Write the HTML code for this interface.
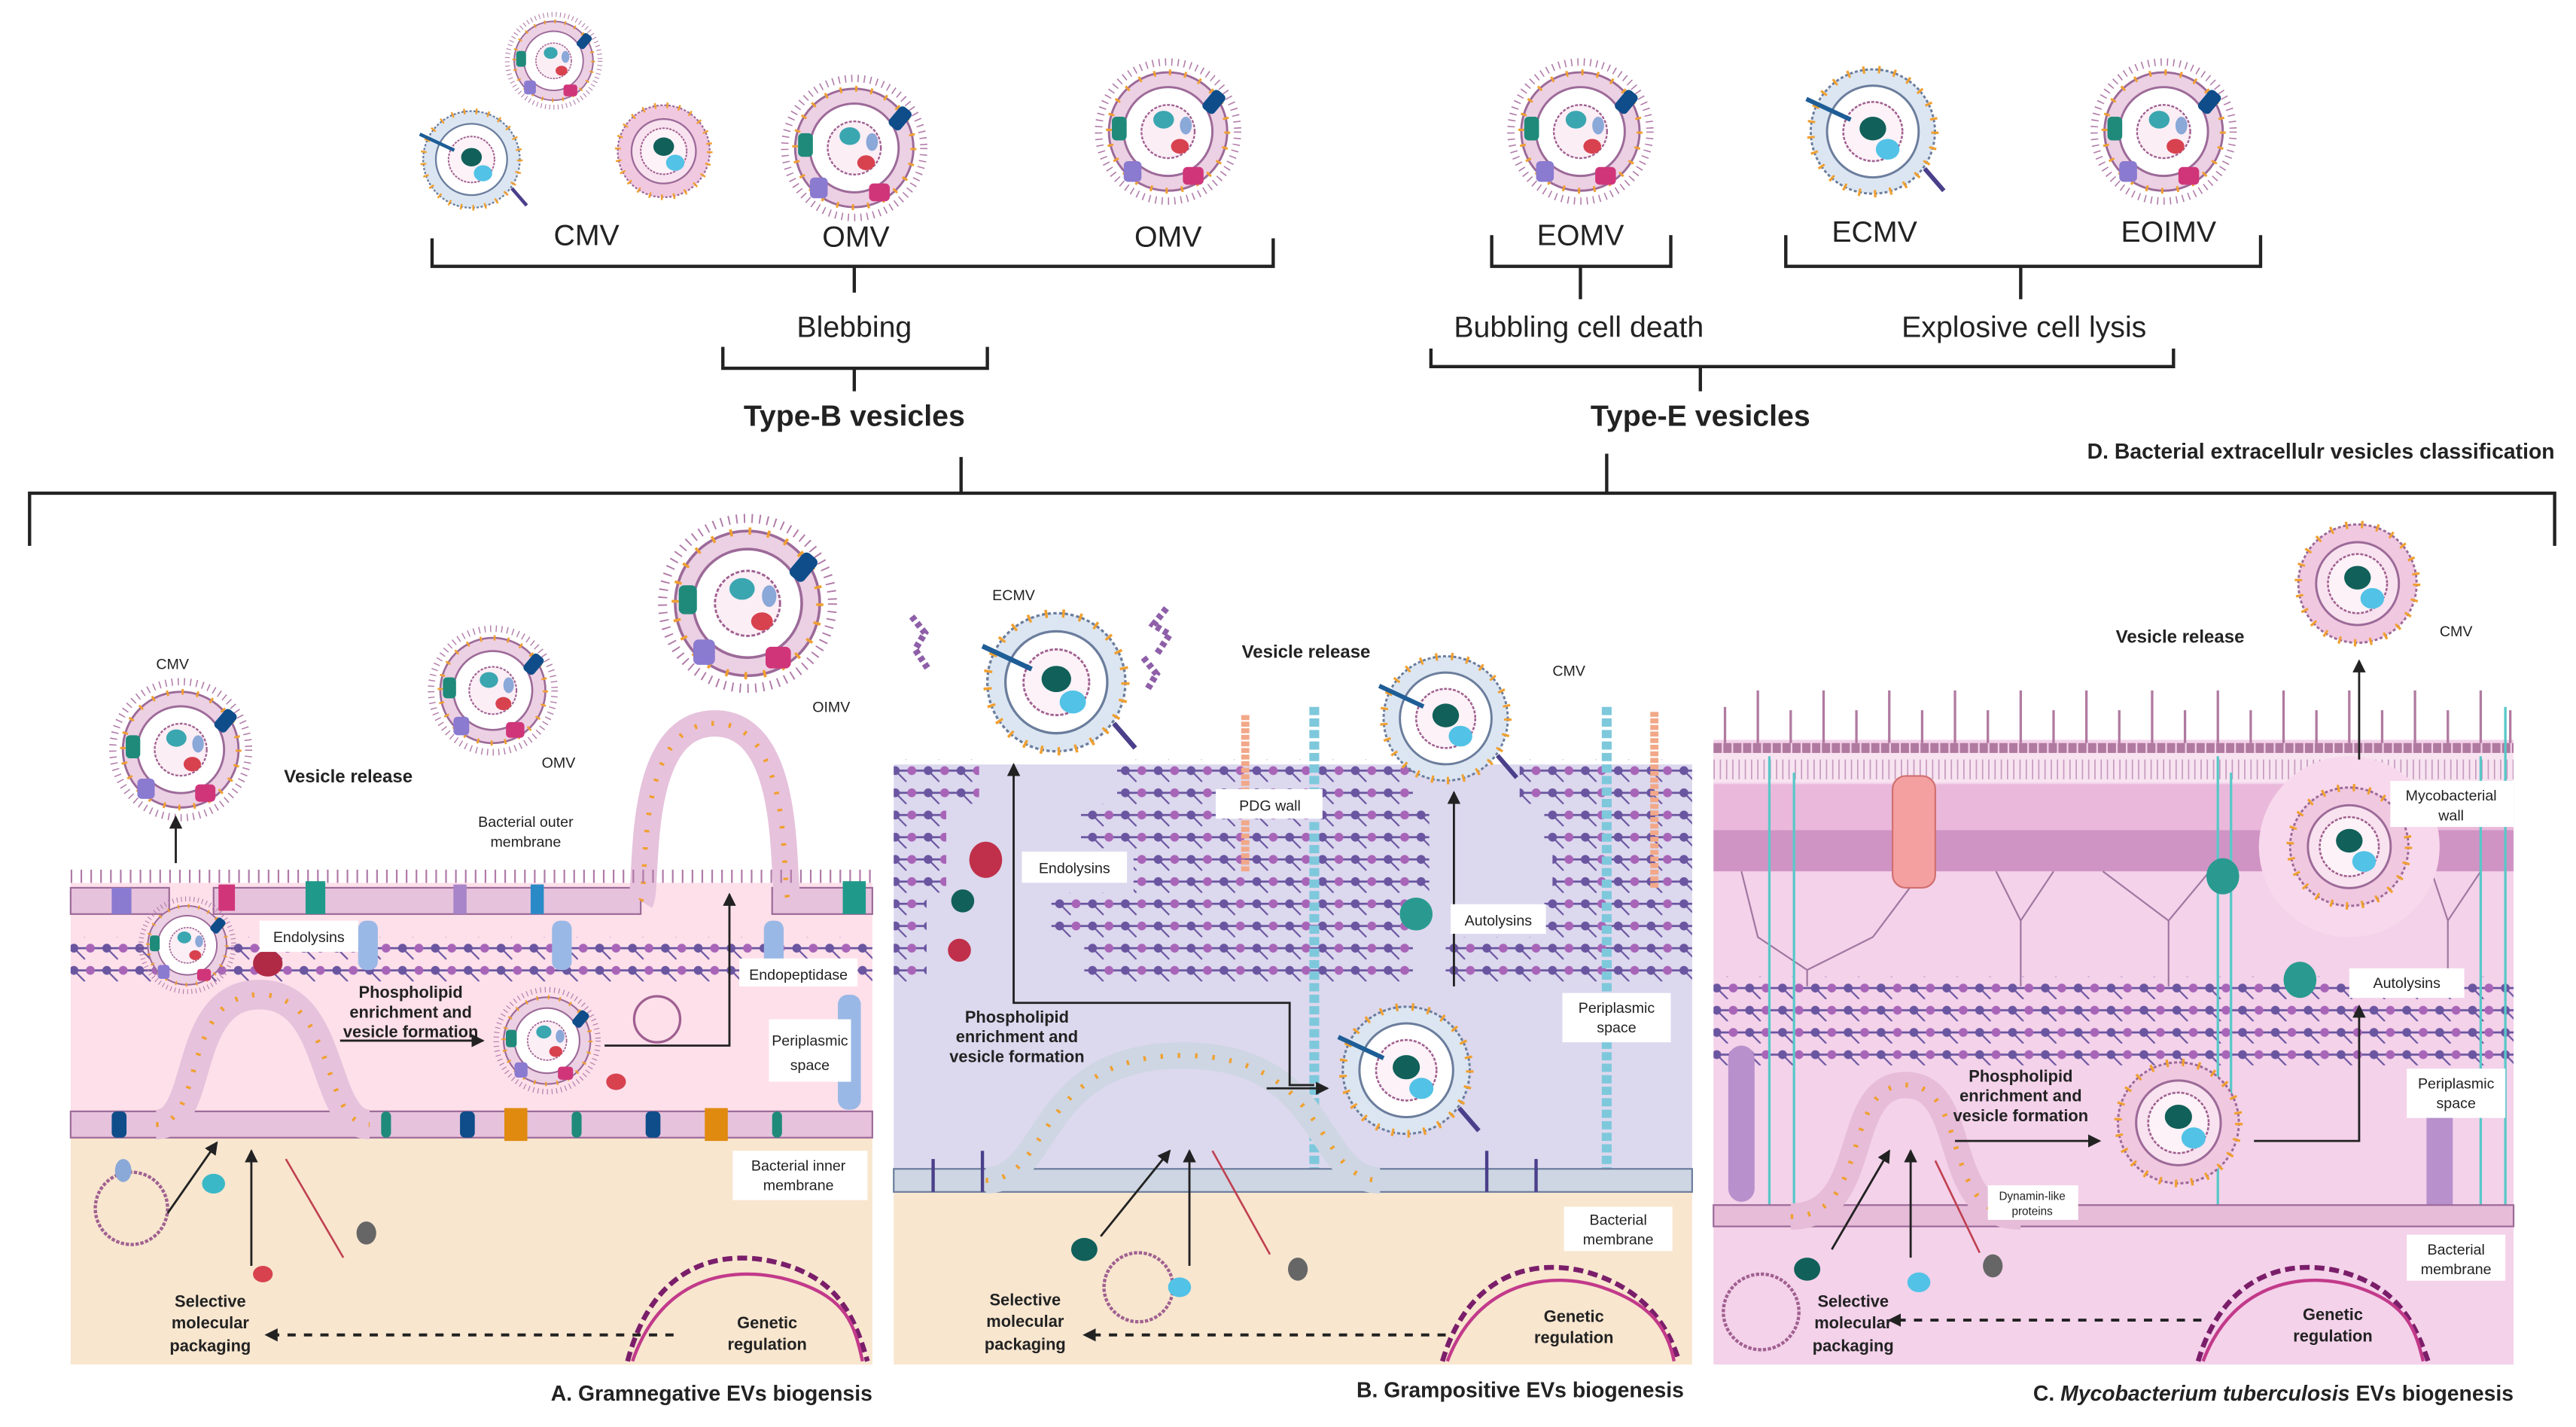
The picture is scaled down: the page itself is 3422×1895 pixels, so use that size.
<!DOCTYPE html>
<html><head><meta charset="utf-8"><style>
html,body{margin:0;padding:0;background:#fff;}
svg{display:block;}
text{font-family:"Liberation Sans",sans-serif;fill:#222;}
.b{font-weight:bold;}
.s{font-size:9px;fill:#555;}
</style></head><body>
<svg width="3422" height="1895" viewBox="0 0 1568 868" preserveAspectRatio="none" xmlns="http://www.w3.org/2000/svg">
<defs>
<symbol id="v" viewBox="-50 -50 100 100">
 <circle r="47" fill="none" stroke="#b07aa8" stroke-width="5" stroke-dasharray="0.8 3.5"/>
 <circle r="40" fill="#ecd0e4" stroke="#9c6a98" stroke-width="1.5"/>
 <circle r="40" fill="none" stroke="#f0a030" stroke-width="4" stroke-dasharray="1.5 9"/>
 <circle r="30" fill="#fff" stroke="#9c6a98" stroke-width="1.5"/>
 <circle r="18" fill="#fbeef5" stroke="#a06090" stroke-width="1.2" stroke-dasharray="2 1"/>
 <rect x="-38" y="-10" width="10" height="16" rx="3" fill="#1f8a7a"/>
 <rect x="26" y="-28" width="10" height="16" rx="3" fill="#0e4d8a" transform="rotate(40 31 -20)"/>
 <rect x="10" y="24" width="14" height="12" rx="3" fill="#d0357a"/>
 <rect x="-30" y="20" width="12" height="14" rx="3" fill="#8a7ad0"/>
 <ellipse cx="-3" cy="-8" rx="7" ry="6" fill="#3aa6b0"/>
 <ellipse cx="8" cy="10" rx="6" ry="5" fill="#d8424f"/>
 <ellipse cx="12" cy="-4" rx="4" ry="6" fill="#8aa8d8"/>
</symbol>
<symbol id="vb" viewBox="-50 -50 100 100">
 <circle r="42" fill="#dce6f2" stroke="#6b7d9c" stroke-width="1.5" stroke-dasharray="2 1.5"/>
 <circle r="42" fill="none" stroke="#f0a030" stroke-width="5" stroke-dasharray="1.6 9"/>
 <circle r="31" fill="#fff" stroke="#6b7d9c" stroke-width="1.5"/>
 <circle r="20" fill="#fdf2f7" stroke="#a06090" stroke-width="1.3" stroke-dasharray="2 1"/>
 <ellipse cx="0" cy="-2" rx="9" ry="8" fill="#11605a"/>
 <ellipse cx="10" cy="12" rx="8" ry="7" fill="#52c2e6"/>
 <line x1="-45" y1="-22" x2="-15" y2="-8" stroke="#1e5d96" stroke-width="3"/>
 <line x1="35" y1="25" x2="48" y2="40" stroke="#4a3f8a" stroke-width="3"/>
</symbol>
<symbol id="vc" viewBox="-50 -50 100 100">
 <circle r="40" fill="#f0c8e0" stroke="#9c6a98" stroke-width="1.5" stroke-dasharray="2 1.5"/>
 <circle r="40" fill="none" stroke="#f0a030" stroke-width="5" stroke-dasharray="1.6 9"/>
 <circle r="28" fill="#f8e2ef" stroke="#9c6a98" stroke-width="1.5"/>
 <circle r="20" fill="#fdf2f7" stroke="#a06090" stroke-width="1.3" stroke-dasharray="2 1"/>
 <ellipse cx="0" cy="-4" rx="9" ry="8" fill="#11605a"/>
 <ellipse cx="10" cy="10" rx="8" ry="7" fill="#52c2e6"/>
</symbol>
<pattern id="pg" width="20" height="13.5" patternUnits="userSpaceOnUse" patternTransform="translate(0,3)">
 <line x1="0" y1="6.75" x2="20" y2="6.75" stroke="#6a55a0" stroke-width="1.3"/>
 <line x1="5" y1="6.75" x2="11.7" y2="13.5" stroke="#6a55a0" stroke-width="1"/>
 <line x1="11.7" y1="0" x2="5" y2="-6.75" stroke="#6a55a0" stroke-width="1"/>
 <circle cx="5" cy="6.75" r="2.7" fill="#6a55a0"/><circle cx="15" cy="6.75" r="2.7" fill="#a865b8"/>
</pattern>
<pattern id="pgc" width="20" height="13.5" patternUnits="userSpaceOnUse" patternTransform="translate(0,0.25)">
 <line x1="0" y1="6.75" x2="20" y2="6.75" stroke="#6a55a0" stroke-width="1.3"/>
 <line x1="5" y1="6.75" x2="11.7" y2="13.5" stroke="#6a55a0" stroke-width="1"/>
 <circle cx="5" cy="6.75" r="2.7" fill="#6a55a0"/><circle cx="15" cy="6.75" r="2.7" fill="#a865b8"/>
</pattern>
<marker id="ar" markerWidth="8" markerHeight="8" refX="7" refY="4" orient="auto" markerUnits="userSpaceOnUse"><path d="M0,0 L8,4 L0,8z" fill="#222"/></marker>
</defs>

<!-- ===== TOP CLASSIFICATION ===== -->
<use href="#v" x="307" y="7" width="60" height="60"/>
<use href="#vb" x="252" y="62" width="70" height="70"/>
<use href="#vc" x="369" y="57" width="70" height="70"/>
<use href="#v" x="475" y="45" width="90" height="90"/>
<use href="#v" x="666" y="35" width="90" height="90"/>
<use href="#v" x="917" y="35" width="90" height="90"/>
<use href="#vb" x="1095" y="35" width="90" height="90"/>
<use href="#v" x="1272" y="35" width="90" height="90"/>
<g font-size="18">
<text x="357" y="149" text-anchor="middle">CMV</text>
<text x="521" y="150" text-anchor="middle">OMV</text>
<text x="711" y="150" text-anchor="middle">OMV</text>
<text x="962" y="149" text-anchor="middle">EOMV</text>
<text x="1141" y="147" text-anchor="middle">ECMV</text>
<text x="1320" y="147" text-anchor="middle">EOIMV</text>
<text x="520" y="205" text-anchor="middle">Blebbing</text>
<text x="961" y="205" text-anchor="middle">Bubbling cell death</text>
<text x="1232" y="205" text-anchor="middle">Explosive cell lysis</text>
<text x="520" y="259" text-anchor="middle" class="b">Type-B vesicles</text>
<text x="1035" y="259" text-anchor="middle" class="b">Type-E vesicles</text>
</g>
<text x="1555" y="279" text-anchor="end" class="b" font-size="13">D. Bacterial extracellulr vesicles classification</text>
<g stroke="#222" stroke-width="2" fill="none">
<path d="M263,145 V162 H775 V145 M520,162 V178"/>
<path d="M440,211 V224 H601 V211 M520,224 V238"/>
<path d="M908,143 V162 H1017 V143 M962,162 V182"/>
<path d="M1087,143 V162 H1376 V143 M1230,162 V182"/>
<path d="M871,212 V223 H1323 V212 M1035,223 V238"/>
<path d="M18,332 V300 H1555 V332 M585,300 V278 M978,300 V276"/>
</g>

<!-- ===== PANEL A ===== -->
<rect x="43" y="537" width="488" height="150" fill="#fde0ea"/>
<rect x="43" y="687" width="488" height="143" fill="#f8e6cf"/>
<g>
<rect x="43" y="540" width="60" height="16" fill="#e6c2dc" stroke="#9c6a98"/>
<rect x="130" y="540" width="260" height="16" fill="#e6c2dc" stroke="#9c6a98"/>
<rect x="470" y="540" width="61" height="16" fill="#e6c2dc" stroke="#9c6a98"/>
<path d="M390,548 C395,540 385,440 435,440 C485,440 475,540 480,548" fill="none" stroke="#e6c2dc" stroke-width="16"/>
<path d="M390,548 C395,540 385,440 435,440 C485,440 475,540 480,548" fill="none" stroke="#f0a030" stroke-width="3" stroke-dasharray="1.5 9"/>
<line x1="43" y1="533" x2="531" y2="533" stroke="#b07aa8" stroke-width="8" stroke-dasharray="1 5"/>
<rect x="186" y="536" width="12" height="20" fill="#1f9a8a"/><rect x="276" y="538" width="8" height="18" fill="#a785c8"/>
<rect x="323" y="538" width="8" height="18" fill="#2a8ac8"/><rect x="513" y="536" width="14" height="20" fill="#1f9a8a"/>
<rect x="68" y="540" width="12" height="16" fill="#8a7ad0"/><rect x="133" y="538" width="10" height="16" fill="#d0357a"/>
</g>
<rect x="43" y="570" width="488" height="27" fill="url(#pg)"/>
<rect x="218" y="560" width="12" height="30" rx="5" fill="#9ab8e6"/><rect x="336" y="560" width="12" height="30" rx="5" fill="#9ab8e6"/><rect x="465" y="560" width="12" height="30" rx="5" fill="#9ab8e6"/>
<rect x="510" y="605" width="14" height="70" rx="6" fill="#9ab8e6"/>
<rect x="43" y="676" width="488" height="16" fill="#e6c2dc" stroke="#9c6a98"/>
<path d="M95,684 C125,684 110,605 158,605 C205,605 195,684 225,684" fill="none" stroke="#e6c2dc" stroke-width="18"/>
<path d="M95,684 C125,684 110,605 158,605 C205,605 195,684 225,684" fill="none" stroke="#f0a030" stroke-width="3" stroke-dasharray="1.5 9"/>
<rect x="68" y="676" width="9" height="16" rx="3" fill="#0e4d8a"/><rect x="232" y="676" width="6" height="16" rx="3" fill="#1f8a7a"/>
<rect x="280" y="676" width="9" height="16" rx="3" fill="#0e4d8a"/><rect x="307" y="674" width="14" height="20" fill="#e08a10"/>
<rect x="348" y="676" width="6" height="16" rx="3" fill="#1f8a7a"/><rect x="393" y="676" width="9" height="16" rx="3" fill="#0e4d8a"/>
<rect x="429" y="674" width="14" height="20" fill="#e08a10"/><rect x="470" y="676" width="6" height="16" rx="3" fill="#1f8a7a"/>
<use href="#v" x="66" y="412" width="88" height="88"/>
<use href="#v" x="260" y="380" width="80" height="80"/>
<use href="#v" x="400" y="312" width="110" height="110"/>
<use href="#v" x="84" y="545" width="60" height="60"/>
<use href="#v" x="300" y="600" width="66" height="66"/>
<circle cx="400" cy="620" r="14" fill="none" stroke="#a06090" stroke-width="1.5"/>
<circle cx="80" cy="735" r="22" fill="none" stroke="#a06090" stroke-width="2" stroke-dasharray="2 1"/>
<ellipse cx="163" cy="586" rx="9" ry="8" fill="#b02a45"/>
<ellipse cx="375" cy="658" rx="6" ry="5" fill="#d8424f"/><ellipse cx="160" cy="775" rx="6" ry="5" fill="#d8424f"/>
<ellipse cx="223" cy="750" rx="6" ry="7" fill="#666"/><ellipse cx="130" cy="720" rx="7" ry="6" fill="#3ab8c8"/>
<ellipse cx="75" cy="712" rx="5" ry="7" fill="#8aa8d8"/>
<path d="M382,828 C400,760 450,760 480,770 S520,800 528,828" fill="none" stroke="#7a1e6a" stroke-width="3" stroke-dasharray="6 3"/>
<path d="M385,828 C405,770 455,770 485,780 S520,805 525,828" fill="none" stroke="#c23a8a" stroke-width="2"/>
<g stroke="#222" stroke-width="1.3" fill="none">
<line x1="107" y1="525" x2="107" y2="497" marker-end="url(#ar)"/>
<line x1="207" y1="633" x2="294" y2="633" marker-end="url(#ar)"/>
<path d="M368,636 H444 V544" marker-end="url(#ar)"/>
<line x1="102" y1="738" x2="132" y2="695" marker-end="url(#ar)"/>
<line x1="153" y1="770" x2="153" y2="700" marker-end="url(#ar)"/>
<line x1="410" y1="812" x2="162" y2="812" stroke-dasharray="5 5" stroke-width="1.8" marker-end="url(#ar)"/>
</g>
<line x1="174" y1="705" x2="209" y2="765" stroke="#c04050" stroke-width="1.2"/>
<rect x="450" y="583" width="72" height="17" fill="#fff"/>
<rect x="158" y="560" width="60" height="19" fill="#fff"/>
<rect x="468" y="620" width="50" height="38" fill="#fff"/>
<rect x="446" y="700" width="82" height="30" fill="#fff"/>
<g class="s">
<text x="105" y="407" text-anchor="middle">CMV</text>
<text x="340" y="467" text-anchor="middle">OMV</text>
<text x="506" y="433" text-anchor="middle">OIMV</text>
<text x="320" y="503" text-anchor="middle">Bacterial outer</text><text x="320" y="515" text-anchor="middle">membrane</text>
<text x="188" y="573" text-anchor="middle">Endolysins</text>
<text x="486" y="596" text-anchor="middle">Endopeptidase</text>
<text x="493" y="636" text-anchor="middle">Periplasmic</text><text x="493" y="651" text-anchor="middle">space</text>
<text x="486" y="712" text-anchor="middle">Bacterial inner</text><text x="486" y="724" text-anchor="middle">membrane</text>
</g>
<text x="212" y="476" text-anchor="middle" class="b" font-size="11">Vesicle release</text>
<g class="b" font-size="10" text-anchor="middle">
<text x="250" y="607">Phospholipid</text><text x="250" y="619">enrichment and</text><text x="250" y="631">vesicle formation</text>
<text x="128" y="795">Selective</text><text x="128" y="808">molecular</text><text x="128" y="822">packaging</text>
<text x="467" y="808">Genetic</text><text x="467" y="821">regulation</text>
</g>
<text x="531" y="852" text-anchor="end" class="b" font-size="13">A. Gramnegative EVs biogensis</text>

<!-- ===== PANEL B ===== -->
<rect x="544" y="465" width="486" height="248" fill="#dcd8ee"/>
<rect x="544" y="725" width="486" height="105" fill="#f8e6cf"/>
<g fill="url(#pg)">
<rect x="544" y="462" width="52" height="27"/><rect x="680" y="462" width="180" height="27"/><rect x="925" y="462" width="105" height="27"/>
<rect x="544" y="489" width="32" height="27"/><rect x="658" y="489" width="212" height="27"/><rect x="940" y="489" width="90" height="27"/>
<rect x="544" y="516" width="32" height="27"/><rect x="690" y="516" width="180" height="27"/><rect x="945" y="516" width="85" height="27"/>
<rect x="544" y="543" width="20" height="27"/><rect x="640" y="543" width="220" height="27"/><rect x="940" y="543" width="90" height="27"/>
<rect x="544" y="570" width="20" height="27"/><rect x="660" y="570" width="200" height="27"/><rect x="880" y="570" width="150" height="27"/>
</g>
<line x1="758" y1="435" x2="758" y2="530" stroke="#f2a888" stroke-width="5" stroke-dasharray="3 1"/>
<line x1="1007" y1="433" x2="1007" y2="540" stroke="#f2a888" stroke-width="5" stroke-dasharray="3 1"/>
<line x1="800" y1="430" x2="800" y2="712" stroke="#7ec8dc" stroke-width="6" stroke-dasharray="5 2"/>
<line x1="978" y1="430" x2="978" y2="712" stroke="#7ec8dc" stroke-width="6" stroke-dasharray="5 2"/>
<rect x="544" y="711" width="486" height="14" fill="#cdd6e2" stroke="#6b7d9c" stroke-width="1"/>
<path d="M600,718 C640,718 630,642 720,642 C810,642 800,718 840,718" fill="none" stroke="#cdd6e2" stroke-width="16"/>
<path d="M600,718 C640,718 630,642 720,642 C810,642 800,718 840,718" fill="none" stroke="#f0a030" stroke-width="3" stroke-dasharray="1.5 9"/>
<g stroke="#4a3f8a" stroke-width="2"><line x1="568" y1="705" x2="568" y2="725"/><line x1="598" y1="700" x2="598" y2="725"/><line x1="905" y1="700" x2="905" y2="725"/><line x1="935" y1="705" x2="935" y2="725"/></g>
<use href="#vb" x="593" y="365" width="100" height="100"/>
<use href="#vb" x="835" y="392" width="90" height="90"/>
<use href="#vb" x="810" y="605" width="92" height="92"/>
<path d="M555,375 l8,10 -6,10 8,12 M710,370 l-8,10 10,6 -8,12 M696,400 l8,10 -6,10" stroke="#8e5fa8" stroke-width="4" fill="none" stroke-dasharray="3 2"/>
<ellipse cx="600" cy="523" rx="10" ry="11" fill="#c0304a"/><ellipse cx="586" cy="548" rx="7" ry="7" fill="#11605a"/><ellipse cx="584" cy="578" rx="7" ry="7" fill="#c0304a"/>
<ellipse cx="862" cy="556" rx="10" ry="10" fill="#2a9a90"/>
<circle cx="693" cy="783" r="21" fill="none" stroke="#a06090" stroke-width="2" stroke-dasharray="2 1"/>
<ellipse cx="660" cy="760" rx="8" ry="7" fill="#11605a"/><ellipse cx="718" cy="783" rx="7" ry="6" fill="#52c2e6"/><ellipse cx="790" cy="772" rx="6" ry="7" fill="#666"/>
<path d="M878,828 C895,770 940,765 970,775 S1015,805 1022,828" fill="none" stroke="#7a1e6a" stroke-width="3" stroke-dasharray="6 3"/>
<path d="M881,828 C900,778 945,773 975,783 S1015,808 1019,828" fill="none" stroke="#c23a8a" stroke-width="2"/>
<g stroke="#222" stroke-width="1.3" fill="none">
<path d="M800,660 H785 V610 H617 V465" marker-end="url(#ar)"/>
<line x1="771" y1="662" x2="808" y2="662" marker-end="url(#ar)"/>
<line x1="885" y1="600" x2="885" y2="482" marker-end="url(#ar)"/>
<line x1="670" y1="752" x2="712" y2="700" marker-end="url(#ar)"/>
<line x1="724" y1="770" x2="724" y2="700" marker-end="url(#ar)"/>
<line x1="880" y1="812" x2="660" y2="812" stroke-dasharray="5 5" stroke-width="1.8" marker-end="url(#ar)"/>
</g>
<line x1="738" y1="700" x2="773" y2="763" stroke="#c04050" stroke-width="1.2"/>
<rect x="740" y="480" width="65" height="18" fill="#fff"/>
<rect x="622" y="518" width="64" height="19" fill="#fff"/>
<rect x="883" y="550" width="58" height="18" fill="#fff"/>
<rect x="951" y="604" width="66" height="30" fill="#fff"/>
<rect x="952" y="734" width="66" height="27" fill="#fff"/>
<g class="s">
<text x="617" y="365" text-anchor="middle">ECMV</text>
<text x="955" y="411" text-anchor="middle">CMV</text>
<text x="773" y="493" text-anchor="middle">PDG wall</text>
<text x="654" y="531" text-anchor="middle">Endolysins</text>
<text x="912" y="563" text-anchor="middle">Autolysins</text>
<text x="984" y="616" text-anchor="middle">Periplasmic</text><text x="984" y="628" text-anchor="middle">space</text>
<text x="985" y="745" text-anchor="middle">Bacterial</text><text x="985" y="757" text-anchor="middle">membrane</text>
</g>
<text x="795" y="400" text-anchor="middle" class="b" font-size="11">Vesicle release</text>
<g class="b" font-size="10" text-anchor="middle">
<text x="619" y="622">Phospholipid</text><text x="619" y="634">enrichment and</text><text x="619" y="646">vesicle formation</text>
<text x="624" y="794">Selective</text><text x="624" y="807">molecular</text><text x="624" y="821">packaging</text>
<text x="958" y="804">Genetic</text><text x="958" y="817">regulation</text>
</g>
<text x="1025" y="850" text-anchor="end" class="b" font-size="13">B. Grampositive EVs biogenesis</text>

<!-- ===== PANEL C ===== -->
<rect x="1043" y="450" width="487" height="380" fill="#f4d2ea"/>
<rect x="1043" y="458" width="487" height="18" fill="#f8e4f1"/>
<line x1="1043" y1="468" x2="1530" y2="468" stroke="#c79cc0" stroke-width="12" stroke-dasharray="0.8 3"/>
<line x1="1043" y1="455" x2="1530" y2="455" stroke="#b07aa0" stroke-width="6" stroke-dasharray="5 1"/>
<g stroke="#b07aa0" stroke-width="1.5">
<path d="M1050,452 V430 M1070,452 V420 M1090,452 V432 M1110,452 V420 M1130,452 V432 M1150,452 V420 M1170,452 V432 M1190,452 V420 M1210,452 V432 M1230,452 V420 M1250,452 V432 M1270,452 V420 M1290,452 V432 M1310,452 V420 M1330,452 V432 M1350,452 V420 M1370,452 V432 M1390,452 V420 M1410,452 V432 M1430,452 V420 M1450,452 V432 M1470,452 V420 M1490,452 V432 M1510,452 V420 M1528,452 V432"/>
</g>
<rect x="1043" y="477" width="487" height="28" fill="#eab8da"/>
<rect x="1043" y="505" width="487" height="25" fill="#cf94c4"/>
<g stroke="#a077a0" stroke-width="1" fill="none">
<path d="M1060,530 L1070,570 L1100,590 L1140,570 L1170,530 M1100,590 V600 M1215,530 L1230,560 L1250,530 M1230,560 V600 M1280,530 L1320,560 L1345,530 M1320,560 V600 M1390,530 L1400,560 L1420,530 M1480,530 L1490,560 L1510,530 M1490,560 V600"/>
</g>
<rect x="1152" y="472" width="26" height="68" rx="8" fill="#f5a0a0" stroke="#d07070"/>
<rect x="1043" y="594" width="487" height="54" fill="url(#pgc)"/>
<rect x="1052" y="636" width="16" height="95" rx="8" fill="#b790cc"/>
<rect x="1477" y="660" width="16" height="80" rx="8" fill="#b790cc"/>
<g stroke="#58c8c8" stroke-width="1.5" fill="none">
<path d="M1077,460 V735 M1092,470 V735 M1350,460 V735 M1358,470 V700 M1510,460 V735 M1525,430 V735"/>
</g>
<rect x="1043" y="733" width="487" height="13" fill="#e6bcd8" stroke="#9c6a98"/>
<path d="M1090,740 C1140,740 1120,660 1160,660 C1200,660 1180,740 1230,740" fill="none" stroke="#e6bcd8" stroke-width="16"/>
<path d="M1090,740 C1140,740 1120,660 1160,660 C1200,660 1180,740 1230,740" fill="none" stroke="#f0a030" stroke-width="3" stroke-dasharray="1.5 9"/>
<circle cx="1430" cy="515" r="55" fill="#f8d8ec"/>
<use href="#vc" x="1385" y="470" width="90" height="90"/>
<use href="#vc" x="1280" y="637" width="92" height="92"/>
<use href="#vc" x="1390" y="310" width="90" height="90"/>
<ellipse cx="1353" cy="533" rx="10" ry="11" fill="#2a9a90"/><ellipse cx="1400" cy="596" rx="10" ry="11" fill="#2a9a90"/>
<circle cx="1072" cy="798" r="23" fill="none" stroke="#a06090" stroke-width="2" stroke-dasharray="2 1"/>
<ellipse cx="1100" cy="772" rx="8" ry="7" fill="#11605a"/><ellipse cx="1168" cy="780" rx="7" ry="6" fill="#52c2e6"/><ellipse cx="1213" cy="770" rx="6" ry="7" fill="#666"/>
<path d="M1338,828 C1355,770 1400,765 1430,775 S1470,805 1478,828" fill="none" stroke="#7a1e6a" stroke-width="3" stroke-dasharray="6 3"/>
<path d="M1341,828 C1360,778 1405,773 1435,783 S1470,808 1475,828" fill="none" stroke="#c23a8a" stroke-width="2"/>
<g stroke="#222" stroke-width="1.3" fill="none">
<line x1="1190" y1="694" x2="1278" y2="694" marker-end="url(#ar)"/>
<path d="M1372,694 H1436 V612" marker-end="url(#ar)"/>
<line x1="1436" y1="462" x2="1436" y2="402" marker-end="url(#ar)"/>
<line x1="1115" y1="760" x2="1150" y2="700" marker-end="url(#ar)"/>
<line x1="1163" y1="765" x2="1163" y2="700" marker-end="url(#ar)"/>
<line x1="1340" y1="803" x2="1150" y2="803" stroke-dasharray="5 5" stroke-width="1.8" marker-end="url(#ar)"/>
</g>
<line x1="1178" y1="706" x2="1205" y2="762" stroke="#c04050" stroke-width="1.2"/>
<rect x="1455" y="475" width="75" height="28" fill="#fff"/>
<rect x="1430" y="589" width="70" height="18" fill="#fff"/>
<rect x="1465" y="650" width="60" height="30" fill="#fff"/>
<rect x="1210" y="721" width="55" height="21" fill="#fff"/>
<rect x="1465" y="751" width="60" height="28" fill="#fff"/>
<g class="s">
<text x="1495" y="387" text-anchor="middle">CMV</text>
<text x="1492" y="487" text-anchor="middle">Mycobacterial</text><text x="1492" y="499" text-anchor="middle">wall</text>
<text x="1465" y="601" text-anchor="middle">Autolysins</text>
<text x="1495" y="662" text-anchor="middle">Periplasmic</text><text x="1495" y="674" text-anchor="middle">space</text>
<text x="1237" y="730" text-anchor="middle" font-size="7">Dynamin-like</text><text x="1237" y="739" text-anchor="middle" font-size="7">proteins</text>
<text x="1495" y="763" text-anchor="middle">Bacterial</text><text x="1495" y="775" text-anchor="middle">membrane</text>
</g>
<text x="1327" y="391" text-anchor="middle" class="b" font-size="11">Vesicle release</text>
<g class="b" font-size="10" text-anchor="middle">
<text x="1230" y="658">Phospholipid</text><text x="1230" y="670">enrichment and</text><text x="1230" y="682">vesicle formation</text>
<text x="1128" y="795">Selective</text><text x="1128" y="808">molecular</text><text x="1128" y="822">packaging</text>
<text x="1420" y="803">Genetic</text><text x="1420" y="816">regulation</text>
</g>
<text x="1530" y="852" text-anchor="end" class="b" font-size="13">C. <tspan font-style="italic">Mycobacterium tuberculosis</tspan> EVs biogenesis</text>
</svg>
</body></html>
